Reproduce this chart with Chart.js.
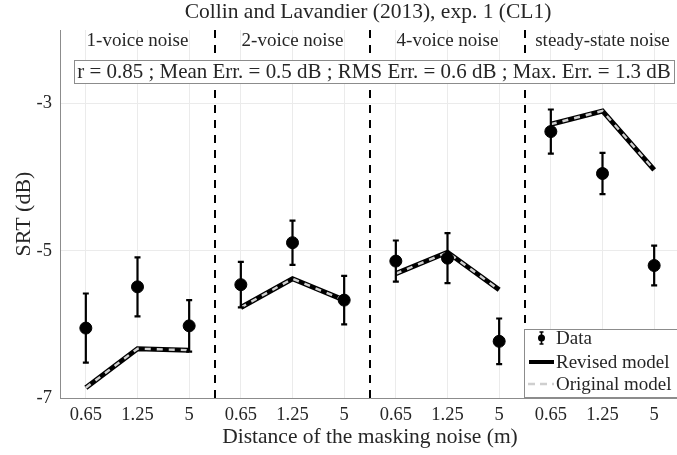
<!DOCTYPE html>
<html><head><meta charset="utf-8">
<script src="https://cdn.jsdelivr.net/npm/chart.js@4/dist/chart.umd.min.js"></script>
<style>html,body{margin:0;padding:0;overflow:hidden;background:#fff}#wrap{width:680px;height:455px}</style>
</head><body><div id="wrap"><canvas id="c" width="680" height="455"></canvas></div>
<script>
const chartTitle = 'Collin and Lavandier (2013), exp. 1 (CL1)';
const groups = ['1-voice noise', '2-voice noise', '4-voice noise', 'steady-state noise'];
const distances = ['0.65', '1.25', '5'];
const srtData = [-6.05, -5.49, -6.02, -5.46, -4.89, -5.67, -5.14, -5.10, -6.23, -3.38, -3.95, -5.20];
const srtErr = [0.47, 0.40, 0.35, 0.31, 0.30, 0.33, 0.28, 0.34, 0.31, 0.30, 0.28, 0.27];
const revisedModel = [-6.86, -6.33, -6.35, -5.77, -5.38, -5.67, -5.31, -5.02, -5.53, -3.28, -3.10, -3.90];
const originalModel = [-6.86, -6.33, -6.35, -5.77, -5.38, -5.67, -5.31, -5.02, -5.53, -3.28, -3.10, -3.90];
const statsText = 'r = 0.85 ; Mean Err. = 0.5 dB ; RMS Err. = 0.6 dB ; Max. Err. = 1.3 dB';
const xTitle = 'Distance of the masking noise (m)';
const yTitle = 'SRT (dB)';
const yTickValues = [-7, -5, -3];
const legendLabels = ['Data', 'Revised model', 'Original model'];

const FONT = '"Liberation Serif", "Times New Roman", serif';
Chart.defaults.font.family = FONT;
Chart.defaults.color = '#262626';

const positions = [], tickLabels = [];
groups.forEach((g, gi) => distances.forEach((d, di) => { positions.push(gi * distances.length + di + 1); tickLabels.push(d); }));
const nPer = distances.length;
function seriesWithGaps(vals) {
  const out = [];
  groups.forEach((g, gi) => {
    for (let di = 0; di < nPer; di++) { const i = gi * nPer + di; out.push({x: positions[i], y: vals[i]}); }
    out.push({x: positions[gi * nPer + nPer - 1] + 0.5, y: null});
  });
  return out;
}
const dividerPts = [];
for (let gi = 1; gi < groups.length; gi++) {
  const xv = gi * nPer + 0.5;
  dividerPts.push({x: xv, y: -7}, {x: xv, y: -2}, {x: xv, y: null});
}

const decor = {
  id: 'decor',
  afterDatasetsDraw(chart) {
    const ctx = chart.ctx, xs = chart.scales.x, ys = chart.scales.y;
    ctx.save();
    // error bars
    ctx.strokeStyle = '#000'; ctx.lineWidth = 2.2;
    srtData.forEach((m, i) => {
      const x = xs.getPixelForValue(positions[i]);
      const y1 = ys.getPixelForValue(m + srtErr[i]), y2 = ys.getPixelForValue(m - srtErr[i]);
      ctx.beginPath();
      ctx.moveTo(x, y1); ctx.lineTo(x, y2);
      ctx.moveTo(x - 3, y1); ctx.lineTo(x + 3, y1);
      ctx.moveTo(x - 3, y2); ctx.lineTo(x + 3, y2);
      ctx.stroke();
    });
    // group labels
    ctx.fillStyle = '#262626'; ctx.font = '19px ' + FONT; ctx.textAlign = 'center'; ctx.textBaseline = 'middle';
    groups.forEach((g, gi) => {
      ctx.fillText(g, xs.getPixelForValue(positions[gi * nPer + 1]), 41);
    });
    // stats box
    ctx.font = '17px ' + FONT;
    const tw = ctx.measureText(statsText).width;
    const fs = 17 * 594 / tw;
    ctx.font = fs.toFixed(2) + 'px ' + FONT;
    const bx = 74, by = 60, bw = 600, bh = 23;
    ctx.fillStyle = '#fff'; ctx.fillRect(bx, by, bw, bh);
    ctx.strokeStyle = '#8c8c8c'; ctx.lineWidth = 1; ctx.strokeRect(bx + 0.5, by + 0.5, bw, bh);
    ctx.fillStyle = '#262626'; ctx.fillText(statsText, bx + bw / 2, by + bh / 2 + 1);
    // legend
    const lx = 524, ly = 329, lw = 170, lh = 68;
    ctx.fillStyle = '#fff'; ctx.fillRect(lx, ly, lw, lh);
    ctx.strokeStyle = '#8c8c8c'; ctx.strokeRect(lx + 0.5, ly + 0.5, lw, lh);
    ctx.textAlign = 'left'; ctx.font = '19px ' + FONT; ctx.fillStyle = '#262626';
    const rows = [338, 362, 384];
    // data icon
    ctx.strokeStyle = '#000'; ctx.lineWidth = 1.6;
    ctx.beginPath();
    ctx.moveTo(541.5, 332); ctx.lineTo(541.5, 344);
    ctx.moveTo(539.5, 332); ctx.lineTo(543.5, 332);
    ctx.moveTo(539.5, 344); ctx.lineTo(543.5, 344);
    ctx.stroke();
    ctx.fillStyle = '#000'; ctx.beginPath(); ctx.arc(541.5, 338, 3.5, 0, Math.PI * 2); ctx.fill();
    // revised icon
    ctx.lineWidth = 4; ctx.beginPath(); ctx.moveTo(529, rows[1]); ctx.lineTo(554, rows[1]); ctx.stroke();
    // original icon
    ctx.strokeStyle = '#cfcfcf'; ctx.lineWidth = 2.5; ctx.setLineDash([7, 5]);
    ctx.beginPath(); ctx.moveTo(528, rows[2]); ctx.lineTo(554, rows[2]); ctx.stroke();
    ctx.setLineDash([]);
    ctx.fillStyle = '#262626';
    legendLabels.forEach((t, k) => ctx.fillText(t, 556, rows[k] + 1));
    // title
    ctx.textAlign = 'center'; ctx.font = '21.5px ' + FONT;
    ctx.fillText(chartTitle, 368, 12);
    ctx.restore();
  }
};

new Chart(document.getElementById('c'), {
  type: 'line',
  data: {
    datasets: [
      {label: 'Data', data: positions.map((p, i) => ({x: p, y: srtData[i]})), showLine: false,
       pointRadius: 6, pointBackgroundColor: '#000', pointBorderColor: '#000', order: 0},
      {label: 'Original model', data: seriesWithGaps(originalModel), borderColor: '#d0d0d0', borderWidth: 2.4,
       borderDash: [6, 6], pointRadius: 0, spanGaps: false, order: 1},
      {label: 'Revised model', data: seriesWithGaps(revisedModel), borderColor: '#000', borderWidth: 5,
       pointRadius: 0, spanGaps: false, order: 2},
      {label: 'dividers', data: dividerPts, borderColor: '#000', borderWidth: 2, borderDash: [8, 7],
       pointRadius: 0, spanGaps: false, order: 3}
    ]
  },
  options: {
    responsive: false, animation: false, devicePixelRatio: 1,
    layout: {autoPadding: false, padding: {top: 30, right: 0, left: 0, bottom: 0}},
    plugins: {legend: {display: false}, tooltip: {enabled: false}},
    scales: {
      x: {
        type: 'linear', min: 0.5, max: 12.5,
        afterBuildTicks: s => { s.ticks = positions.map(v => ({value: v})); },
        afterFit: s => { s.height = 57; s.paddingLeft = 0; s.paddingRight = 0; },
        ticks: {callback: (v, i) => tickLabels[i], font: {size: 18.5}, padding: 6, maxRotation: 0, autoSkip: false},
        grid: {color: '#ebebeb', drawTicks: false},
        border: {color: '#8c8c8c'},
        title: {display: true, text: xTitle, font: {size: 21.5}, padding: {top: 0, bottom: 5}}
      },
      y: {
        min: -7, max: -2,
        afterBuildTicks: s => { s.ticks = yTickValues.map(v => ({value: v})); },
        afterFit: s => { s.width = 60; s.paddingTop = 0; s.paddingBottom = 0; },
        ticks: {font: {size: 18.5}, padding: 8},
        grid: {color: '#ebebeb', drawTicks: false},
        border: {color: '#8c8c8c'},
        title: {display: true, text: yTitle, font: {size: 22}, padding: {top: 11, bottom: 0}}
      }
    }
  },
  plugins: [decor]
});
</script></body></html>
